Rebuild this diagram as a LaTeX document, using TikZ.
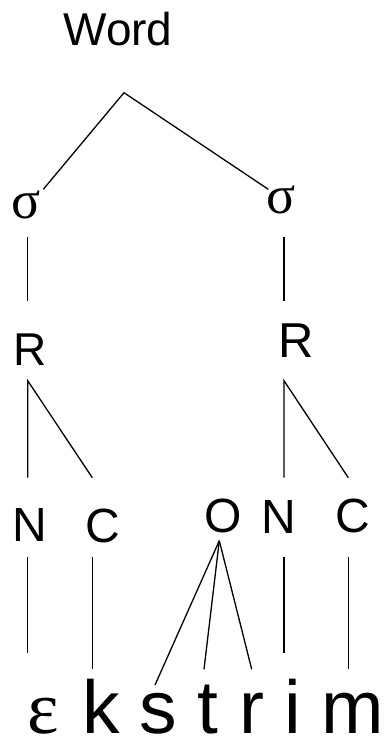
\documentclass[tikz,border=0pt]{standalone}
\usepackage{fontspec}
\setmainfont{Liberation Sans}
\newfontfamily\gkfont{Liberation Serif}
\begin{document}
\begin{tikzpicture}[x=1pt,y=-1pt,
  lbl/.style={inner sep=0pt, outer sep=0pt, anchor=base},
  big/.style={lbl, font=\fontsize{46}{50}\selectfont},
  mid/.style={lbl, font=\fontsize{48}{52}\selectfont},
  sig/.style={lbl, font=\gkfont\fontsize{54}{58}\selectfont},
  seg/.style={lbl, font=\fontsize{75}{80}\selectfont},
  ln/.style={line width=1.3pt}]
\useasboundingbox (0,0) rectangle (389,739);
% labels
\node[big] (word) at (118,45) {Word};
\node[sig] (sigL) at (26.5,218.5) {σ};
\node[sig] (sigR) at (281,213.5) {σ};
\node[big] (RL) at (30,365) {R};
\node[lbl, font=\fontsize{49}{53}\selectfont] (RR) at (296,357) {R};
\node[mid] (NL) at (30,541.7) {N};
\node[mid] (CL) at (103,542) {C};
\node[mid] (O) at (223.5,532.5) {O};
\node[mid] (NR) at (279,533) {N};
\node[mid] (CR) at (353,532.5) {C};
\node[lbl, font=\gkfont\fontsize{75}{80}\selectfont] (eps) at (43.5,733) {ε};
\node[seg] (k) at (101,733) {k};
\node[seg] (s) at (158.5,733) {s};
\node[seg] (t) at (208,733) {t};
\node[seg] (r) at (251.5,733) {r};
\node[seg] (i) at (292.5,733) {i};
\node[seg] (m) at (352.5,733) {m};
% connector end points
\coordinate (wA) at (124,92.7);
\coordinate (sLt) at (43.3,189.3);
\coordinate (sRt) at (268.3,189.3);
\coordinate (sLb) at (27.7,236.7);
\coordinate (sRb) at (284,236.7);
\coordinate (rLt) at (27.7,301);
\coordinate (rRt) at (284,301);
\coordinate (rLa) at (27.7,380.7);
\coordinate (rRa) at (284,380.7);
\coordinate (nLt) at (27.7,477.7);
\coordinate (cLt) at (92.3,477.7);
\coordinate (nRt) at (284,477.7);
\coordinate (cRt) at (348.3,477.7);
\coordinate (nLb) at (27.7,556.7);
\coordinate (cLb) at (92.3,556.7);
\coordinate (nRb) at (284,556.7);
\coordinate (cRb) at (348.3,556.7);
\coordinate (nLe) at (27.7,653.3);
\coordinate (kT) at (92.3,669.3);
\coordinate (iT) at (284,653.3);
\coordinate (mT) at (348.3,669.3);
\coordinate (oA) at (219.3,540.7);
\coordinate (sT) at (155,685);
\coordinate (tT) at (204,669.3);
\coordinate (rT) at (251.7,669.3);
% connectors
\draw[ln] (sLt) -- (wA) -- (sRt);
\draw[ln] (sLb) -- (rLt);
\draw[ln] (sRb) -- (rRt);
\draw[ln] (nLt) -- (rLa) -- (cLt);
\draw[ln] (nRt) -- (rRa) -- (cRt);
\draw[ln] (nLb) -- (nLe);
\draw[ln] (cLb) -- (kT);
\draw[ln] (nRb) -- (iT);
\draw[ln] (cRb) -- (mT);
\draw[ln] (oA) -- (sT);
\draw[ln] (oA) -- (tT);
\draw[ln] (oA) -- (rT);
\end{tikzpicture}
\end{document}
